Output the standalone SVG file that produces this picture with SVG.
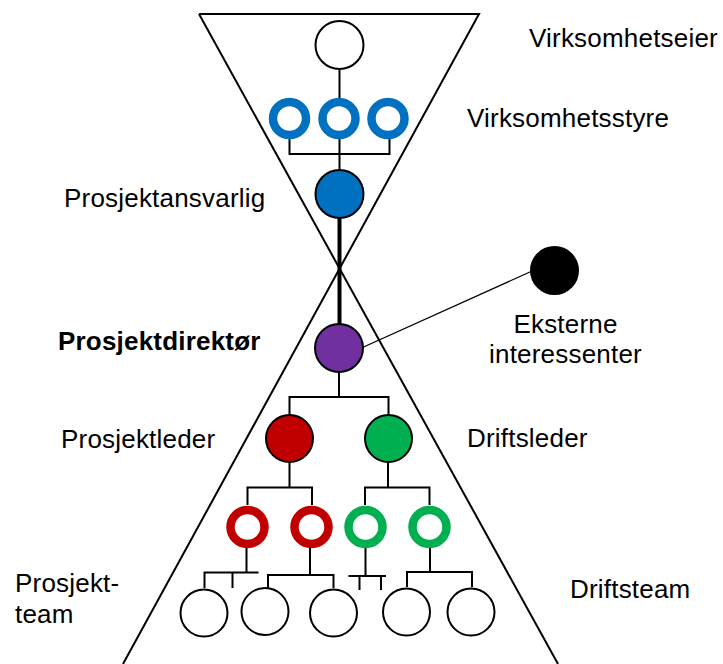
<svg xmlns="http://www.w3.org/2000/svg" width="723" height="664" viewBox="0 0 723 664">
  <style>
    .lbl { font-family: "Liberation Sans", Arial, sans-serif; font-size: 26px; letter-spacing: 0.2px; fill: #000; }
    .bold { font-weight: bold; }
    .frame { fill: none; stroke: #000; stroke-width: 2; }
    .wire { fill: none; stroke: #000; stroke-width: 2; }
    .spine { fill: none; stroke: #000; stroke-width: 4; }
    .thin { fill: none; stroke: #000; stroke-width: 1.3; }
    .person { stroke: #000; stroke-width: 2; }
    .ring { fill: none; stroke-width: 8.5; }
  </style>
  <rect width="723" height="664" fill="#fff"/>

  <!-- hourglass outline -->
  <g id="hourglass">
    <path class="frame" d="M199,14 H479 L123,664"/>
    <path class="frame" d="M199,14 L558,664"/>
  </g>

  <!-- connectors -->
  <g id="connectors">
    <path class="wire" d="M339.5,69 V98"/>
    <path class="wire" d="M289.5,138 V154 H389.5 V138 M339.5,138 V170"/>
    <path class="spine" d="M339.5,218 V324"/>
    <path class="thin" d="M362.5,347.5 L531,271.5"/>
    <path class="wire" d="M339,372 V397 M289.5,416 V397 H388.5 V416"/>
    <path class="wire" d="M289.5,462 V487.5 M247.5,505 V487.5 H312 V505"/>
    <path class="wire" d="M388,462 V487.5 M365,505 V487.5 H429.5 V505"/>
    <path class="wire" d="M246.5,548 V572.5 M204.5,588 V572.5 H258.5 M232.5,572.5 V588"/>
    <path class="wire" d="M310,548 V575 M268,588 V575 H333.5 V588"/>
    <path class="wire" d="M365.5,548 V576 M348.5,576 H386 M359.5,576 V590 M381,576 V590"/>
    <path class="wire" d="M430,548 V572 M407,587 V572 H472 V587"/>
  </g>

  <g id="virksomhetseier"><circle class="person" cx="339.5" cy="45" r="24" fill="#fff"/></g>

  <g id="virksomhetsstyre">
    <circle class="ring" cx="289.5" cy="118.5" r="16.5" stroke="#0070C0"/>
    <circle class="ring" cx="339" cy="118.5" r="16.5" stroke="#0070C0"/>
    <circle class="ring" cx="388" cy="118.5" r="16.5" stroke="#0070C0"/>
  </g>

  <g id="prosjektansvarlig"><circle class="person" cx="339.5" cy="194" r="24" fill="#0070C0"/></g>

  <g id="prosjektdirektor"><circle class="person" cx="339" cy="348" r="24" fill="#7030A0"/></g>

  <g id="eksterne"><circle cx="554.5" cy="270.5" r="24.5" fill="#000"/></g>

  <g id="prosjektleder"><circle class="person" cx="289.5" cy="438.5" r="23.5" fill="#C00000"/></g>
  <g id="driftsleder"><circle class="person" cx="388.5" cy="438.5" r="23.5" fill="#00B050"/></g>

  <g id="prosjekt-ledere">
    <circle class="ring" cx="247.5" cy="527" r="17" stroke="#C00000"/>
    <circle class="ring" cx="311.5" cy="527" r="17" stroke="#C00000"/>
  </g>
  <g id="drift-ledere">
    <circle class="ring" cx="365.5" cy="527" r="17" stroke="#00B050"/>
    <circle class="ring" cx="429.5" cy="527" r="17" stroke="#00B050"/>
  </g>

  <g id="prosjektteam">
    <circle class="person" cx="204" cy="613" r="23.5" fill="#fff"/>
    <circle class="person" cx="265" cy="611.5" r="23.5" fill="#fff"/>
    <circle class="person" cx="333.5" cy="613" r="23.5" fill="#fff"/>
  </g>
  <g id="driftsteam">
    <circle class="person" cx="406.5" cy="612" r="23.5" fill="#fff"/>
    <circle class="person" cx="471" cy="612" r="23.5" fill="#fff"/>
  </g>

  <!-- role labels -->
  <g id="labels">
    <text class="lbl" x="529" y="47">Virksomhetseier</text>
    <text class="lbl" x="467" y="127">Virksomhetsstyre</text>
    <text class="lbl" x="64" y="207">Prosjektansvarlig</text>
    <text class="lbl bold" x="58" y="350">Prosjektdirektør</text>
    <text class="lbl" x="565.5" y="333" text-anchor="middle">Eksterne</text>
    <text class="lbl" x="565.5" y="363" text-anchor="middle">interessenter</text>
    <text class="lbl" x="61" y="448">Prosjektleder</text>
    <text class="lbl" x="467" y="447">Driftsleder</text>
    <text class="lbl" x="15" y="592">Prosjekt-</text>
    <text class="lbl" x="15" y="623">team</text>
    <text class="lbl" x="570" y="598">Driftsteam</text>
  </g>
</svg>
